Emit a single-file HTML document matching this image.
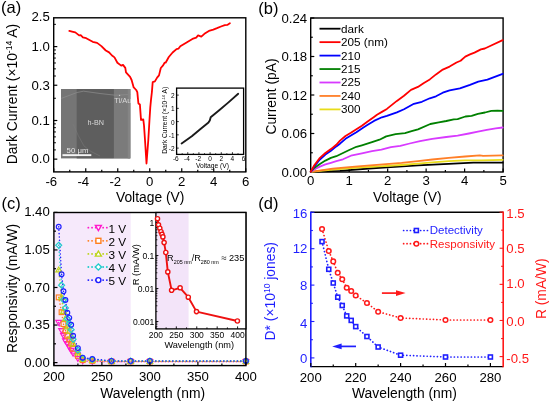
<!DOCTYPE html>
<html><head><meta charset="utf-8"><style>
html,body{margin:0;padding:0;background:#fff;width:550px;height:403px;overflow:hidden}
svg{display:block;will-change:transform}
text{font-family:"Liberation Sans", sans-serif}
</style></head><body>
<svg width="550" height="403" viewBox="0 0 550 403">
<text x="1" y="13.4" font-size="16.5" text-anchor="start" fill="#000">(a)</text>
<rect x="53.7" y="17.8" width="192.1" height="154.1" fill="none" stroke="#000" stroke-width="1.4"/>
<line x1="53.75" y1="171.9" x2="53.75" y2="168.3" stroke="#000" stroke-width="1.2"/>
<text x="51.35" y="185.8" font-size="13.2" text-anchor="middle" fill="#000">-6</text>
<line x1="69.75" y1="171.9" x2="69.75" y2="169.8" stroke="#000" stroke-width="1.2"/>
<line x1="85.75" y1="171.9" x2="85.75" y2="168.3" stroke="#000" stroke-width="1.2"/>
<text x="83.35" y="185.8" font-size="13.2" text-anchor="middle" fill="#000">-4</text>
<line x1="101.75" y1="171.9" x2="101.75" y2="169.8" stroke="#000" stroke-width="1.2"/>
<line x1="117.75" y1="171.9" x2="117.75" y2="168.3" stroke="#000" stroke-width="1.2"/>
<text x="115.35" y="185.8" font-size="13.2" text-anchor="middle" fill="#000">-2</text>
<line x1="133.75" y1="171.9" x2="133.75" y2="169.8" stroke="#000" stroke-width="1.2"/>
<line x1="149.75" y1="171.9" x2="149.75" y2="168.3" stroke="#000" stroke-width="1.2"/>
<text x="149.75" y="185.8" font-size="13.2" text-anchor="middle" fill="#000">0</text>
<line x1="165.75" y1="171.9" x2="165.75" y2="169.8" stroke="#000" stroke-width="1.2"/>
<line x1="181.75" y1="171.9" x2="181.75" y2="168.3" stroke="#000" stroke-width="1.2"/>
<text x="181.75" y="185.8" font-size="13.2" text-anchor="middle" fill="#000">2</text>
<line x1="197.75" y1="171.9" x2="197.75" y2="169.8" stroke="#000" stroke-width="1.2"/>
<line x1="213.75" y1="171.9" x2="213.75" y2="168.3" stroke="#000" stroke-width="1.2"/>
<text x="213.75" y="185.8" font-size="13.2" text-anchor="middle" fill="#000">4</text>
<line x1="229.75" y1="171.9" x2="229.75" y2="169.8" stroke="#000" stroke-width="1.2"/>
<line x1="245.75" y1="171.9" x2="245.75" y2="168.3" stroke="#000" stroke-width="1.2"/>
<text x="245.75" y="185.8" font-size="13.2" text-anchor="middle" fill="#000">6</text>
<text x="150.2" y="201.8" font-size="13.85" text-anchor="middle" fill="#000">Voltage (V)</text>
<text x="49.8" y="21.49" font-size="13.2" text-anchor="end" fill="#000">2.5</text>
<line x1="53.7" y1="46.6" x2="57.3" y2="46.6" stroke="#000" stroke-width="1.2"/>
<text x="49.8" y="50.9" font-size="13.2" text-anchor="end" fill="#000">1.0</text>
<line x1="53.7" y1="85.24" x2="57.3" y2="85.24" stroke="#000" stroke-width="1.2"/>
<text x="49.8" y="89.54" font-size="13.2" text-anchor="end" fill="#000">0.3</text>
<line x1="53.7" y1="120.5" x2="57.3" y2="120.5" stroke="#000" stroke-width="1.2"/>
<text x="49.8" y="124.8" font-size="13.2" text-anchor="end" fill="#000">0.1</text>
<line x1="53.7" y1="159.14" x2="57.3" y2="159.14" stroke="#000" stroke-width="1.2"/>
<text x="49.8" y="163.44" font-size="13.2" text-anchor="end" fill="#000">0.0</text>
<line x1="53.7" y1="24.35" x2="55.9" y2="24.35" stroke="#000" stroke-width="1"/>
<line x1="53.7" y1="49.98" x2="55.9" y2="49.98" stroke="#000" stroke-width="1"/>
<line x1="53.7" y1="53.76" x2="55.9" y2="53.76" stroke="#000" stroke-width="1"/>
<line x1="53.7" y1="58.05" x2="55.9" y2="58.05" stroke="#000" stroke-width="1"/>
<line x1="53.7" y1="62.99" x2="55.9" y2="62.99" stroke="#000" stroke-width="1"/>
<line x1="53.7" y1="68.85" x2="55.9" y2="68.85" stroke="#000" stroke-width="1"/>
<line x1="53.7" y1="76.01" x2="55.9" y2="76.01" stroke="#000" stroke-width="1"/>
<line x1="53.7" y1="98.25" x2="55.9" y2="98.25" stroke="#000" stroke-width="1"/>
<line x1="53.7" y1="123.88" x2="55.9" y2="123.88" stroke="#000" stroke-width="1"/>
<line x1="53.7" y1="127.66" x2="55.9" y2="127.66" stroke="#000" stroke-width="1"/>
<line x1="53.7" y1="131.95" x2="55.9" y2="131.95" stroke="#000" stroke-width="1"/>
<line x1="53.7" y1="136.89" x2="55.9" y2="136.89" stroke="#000" stroke-width="1"/>
<line x1="53.7" y1="142.75" x2="55.9" y2="142.75" stroke="#000" stroke-width="1"/>
<line x1="53.7" y1="149.91" x2="55.9" y2="149.91" stroke="#000" stroke-width="1"/>
<text x="17.1" y="94.1" font-size="13.85" text-anchor="middle" transform="rotate(-90 17.1 94.1)">Dark Current (×10<tspan dy="-5" font-size="8.5">-14</tspan><tspan dy="5"> A)</tspan></text>
<polyline points="69.3,30.9 72,31.6 75.3,32.4 79.1,35.4 80.7,35.2 82.9,37.4 86.2,38.2 92.7,41.8 97.1,42.9 101.4,46.1 105.8,50.5 109.1,52.4 112,55.5 114.5,57.4 117.4,62.7 121.2,65.6 123,64.9 125.3,67.9 126,72.3 130.1,76.8 131.6,80 133.7,87.4 136.2,90 137.3,92.2 138.4,103.4 139.9,104.5 141,119.9 143.3,119.5 144,125.4 145,140 146.5,163.5 148.3,140 149.6,118 150.3,107.1 151,99.8 151.9,92 152.7,82.1 154.9,81.4 157.1,77.6 159,75.4 160.8,68 163.1,65.4 164.6,62.7 165.6,62.7 168.8,57 172.6,52.5 176.5,49.1 178.4,48.7 180.3,46.2 186.6,42.4 192.4,38.9 196.2,37.6 198.1,35.4 201.3,36.6 204.4,33.8 208.9,30.9 213.3,29.6 217,28.2 221,26.5 224.8,25.2 227.3,24.9 229.9,23.3" fill="none" stroke="#ff0000" stroke-width="1.8" stroke-linejoin="round" stroke-linecap="round"/>
<rect x="61" y="89" width="69.3" height="69.4" fill="#757575"/>
<rect x="76.7" y="89" width="37.2" height="69.4" fill="#5e5e5e"/>
<rect x="113.9" y="89" width="16.4" height="69.4" fill="#7b7b7b"/>
<polyline points="61.3,98.4 77,92.5 83.6,91.2 100,93.5 115,95.2 130.3,94.5" fill="none" stroke="#8e8e8e" stroke-width="0.7"/><rect x="127.8" y="89" width="2.5" height="69.4" fill="#858585"/><circle cx="119.6" cy="95.4" r="0.6" fill="#cfcfcf"/>
<path d="M73,124 Q78,136 84,146 Q90,152 100,156" fill="none" stroke="#7c7c7c" stroke-width="0.5"/>
<text x="95.7" y="125" font-size="7.2" text-anchor="middle" fill="#d8d8d8">h-BN</text>
<text x="114.3" y="103.2" font-size="7.5" text-anchor="start" fill="#d8d8d8">Ti/Au</text>
<text x="66.6" y="152.5" font-size="7.8" text-anchor="start" fill="#e4e4e4">50 μm</text>
<rect x="62.5" y="154.2" width="28.8" height="1.9" fill="#f4f4f4"/>
<rect x="176.6" y="88.1" width="67" height="66.3" fill="#fff" stroke="#000" stroke-width="1.3"/>
<line x1="176.6" y1="154.4" x2="176.6" y2="152.2" stroke="#000" stroke-width="0.8"/>
<text x="175.8" y="161" font-size="6.5" text-anchor="middle" fill="#000">-6</text>
<line x1="182.18" y1="154.4" x2="182.18" y2="153.2" stroke="#000" stroke-width="0.8"/>
<line x1="187.77" y1="154.4" x2="187.77" y2="152.2" stroke="#000" stroke-width="0.8"/>
<text x="186.97" y="161" font-size="6.5" text-anchor="middle" fill="#000">-4</text>
<line x1="193.35" y1="154.4" x2="193.35" y2="153.2" stroke="#000" stroke-width="0.8"/>
<line x1="198.93" y1="154.4" x2="198.93" y2="152.2" stroke="#000" stroke-width="0.8"/>
<text x="198.13" y="161" font-size="6.5" text-anchor="middle" fill="#000">-2</text>
<line x1="204.52" y1="154.4" x2="204.52" y2="153.2" stroke="#000" stroke-width="0.8"/>
<line x1="210.1" y1="154.4" x2="210.1" y2="152.2" stroke="#000" stroke-width="0.8"/>
<text x="210.1" y="161" font-size="6.5" text-anchor="middle" fill="#000">0</text>
<line x1="215.68" y1="154.4" x2="215.68" y2="153.2" stroke="#000" stroke-width="0.8"/>
<line x1="221.27" y1="154.4" x2="221.27" y2="152.2" stroke="#000" stroke-width="0.8"/>
<text x="221.27" y="161" font-size="6.5" text-anchor="middle" fill="#000">2</text>
<line x1="226.85" y1="154.4" x2="226.85" y2="153.2" stroke="#000" stroke-width="0.8"/>
<line x1="232.43" y1="154.4" x2="232.43" y2="152.2" stroke="#000" stroke-width="0.8"/>
<text x="232.43" y="161" font-size="6.5" text-anchor="middle" fill="#000">4</text>
<line x1="238.02" y1="154.4" x2="238.02" y2="153.2" stroke="#000" stroke-width="0.8"/>
<line x1="243.6" y1="154.4" x2="243.6" y2="152.2" stroke="#000" stroke-width="0.8"/>
<text x="243.6" y="161" font-size="6.5" text-anchor="middle" fill="#000">6</text>
<line x1="176.6" y1="148.1" x2="178.8" y2="148.1" stroke="#000" stroke-width="0.8"/>
<text x="174.6" y="151.1" font-size="6.5" text-anchor="end" fill="#000">-2</text>
<line x1="176.6" y1="134.85" x2="178.8" y2="134.85" stroke="#000" stroke-width="0.8"/>
<text x="174.6" y="137.85" font-size="6.5" text-anchor="end" fill="#000">-1</text>
<line x1="176.6" y1="121.6" x2="178.8" y2="121.6" stroke="#000" stroke-width="0.8"/>
<text x="174.6" y="124.6" font-size="6.5" text-anchor="end" fill="#000">0</text>
<line x1="176.6" y1="108.35" x2="178.8" y2="108.35" stroke="#000" stroke-width="0.8"/>
<text x="174.6" y="111.35" font-size="6.5" text-anchor="end" fill="#000">1</text>
<line x1="176.6" y1="95.1" x2="178.8" y2="95.1" stroke="#000" stroke-width="0.8"/>
<text x="174.6" y="98.1" font-size="6.5" text-anchor="end" fill="#000">2</text>
<text x="212.5" y="167.6" font-size="6.7" text-anchor="middle" fill="#000">Voltage (V)</text>
<text x="167.2" y="120.3" font-size="6.6" text-anchor="middle" transform="rotate(-90 167.2 120.3)">Dark Current (×10<tspan dy="-2.5" font-size="4">-14</tspan><tspan dy="2.5"> A)</tspan></text>
<polyline points="181.6,143.5 191.8,136.2 200.5,128.9 208.5,122.4 209.8,120.5 210.7,117.3 219.5,110 228.2,102.6 238.2,93.8" fill="none" stroke="#1a1a1a" stroke-width="1.9" stroke-linejoin="round" stroke-linecap="round"/>
<text x="258.3" y="13.5" font-size="16.5" text-anchor="start" fill="#000">(b)</text>
<rect x="310.7" y="18" width="192.4" height="154" fill="none" stroke="#000" stroke-width="1.4"/>
<line x1="310.7" y1="172" x2="310.7" y2="168.4" stroke="#000" stroke-width="1.2"/>
<text x="310.7" y="185.2" font-size="13.2" text-anchor="middle" fill="#000">0</text>
<line x1="329.94" y1="172" x2="329.94" y2="169.9" stroke="#000" stroke-width="1.2"/>
<line x1="349.18" y1="172" x2="349.18" y2="168.4" stroke="#000" stroke-width="1.2"/>
<text x="349.18" y="185.2" font-size="13.2" text-anchor="middle" fill="#000">1</text>
<line x1="368.42" y1="172" x2="368.42" y2="169.9" stroke="#000" stroke-width="1.2"/>
<line x1="387.66" y1="172" x2="387.66" y2="168.4" stroke="#000" stroke-width="1.2"/>
<text x="387.66" y="185.2" font-size="13.2" text-anchor="middle" fill="#000">2</text>
<line x1="406.9" y1="172" x2="406.9" y2="169.9" stroke="#000" stroke-width="1.2"/>
<line x1="426.14" y1="172" x2="426.14" y2="168.4" stroke="#000" stroke-width="1.2"/>
<text x="426.14" y="185.2" font-size="13.2" text-anchor="middle" fill="#000">3</text>
<line x1="445.38" y1="172" x2="445.38" y2="169.9" stroke="#000" stroke-width="1.2"/>
<line x1="464.62" y1="172" x2="464.62" y2="168.4" stroke="#000" stroke-width="1.2"/>
<text x="464.62" y="185.2" font-size="13.2" text-anchor="middle" fill="#000">4</text>
<line x1="483.86" y1="172" x2="483.86" y2="169.9" stroke="#000" stroke-width="1.2"/>
<line x1="503.1" y1="172" x2="503.1" y2="168.4" stroke="#000" stroke-width="1.2"/>
<text x="503.1" y="185.2" font-size="13.2" text-anchor="middle" fill="#000">5</text>
<line x1="310.7" y1="172" x2="314.3" y2="172" stroke="#000" stroke-width="1.2"/>
<text x="307.1" y="176.6" font-size="13.2" text-anchor="end" fill="#000">0.00</text>
<line x1="310.7" y1="152.75" x2="312.8" y2="152.75" stroke="#000" stroke-width="1.2"/>
<line x1="310.7" y1="133.5" x2="314.3" y2="133.5" stroke="#000" stroke-width="1.2"/>
<text x="307.1" y="138.1" font-size="13.2" text-anchor="end" fill="#000">0.06</text>
<line x1="310.7" y1="114.25" x2="312.8" y2="114.25" stroke="#000" stroke-width="1.2"/>
<line x1="310.7" y1="95" x2="314.3" y2="95" stroke="#000" stroke-width="1.2"/>
<text x="307.1" y="99.6" font-size="13.2" text-anchor="end" fill="#000">0.12</text>
<line x1="310.7" y1="75.75" x2="312.8" y2="75.75" stroke="#000" stroke-width="1.2"/>
<line x1="310.7" y1="56.5" x2="314.3" y2="56.5" stroke="#000" stroke-width="1.2"/>
<text x="307.1" y="61.1" font-size="13.2" text-anchor="end" fill="#000">0.18</text>
<line x1="310.7" y1="37.25" x2="312.8" y2="37.25" stroke="#000" stroke-width="1.2"/>
<line x1="310.7" y1="18" x2="314.3" y2="18" stroke="#000" stroke-width="1.2"/>
<text x="307.1" y="22.6" font-size="13.2" text-anchor="end" fill="#000">0.24</text>
<text x="407.3" y="201.8" font-size="13.85" text-anchor="middle" fill="#000">Voltage (V)</text>
<text x="275.7" y="96.5" font-size="13.85" text-anchor="middle" fill="#000" transform="rotate(-90 275.7 96.5)">Current (pA)</text>
<polyline points="310.7,171.8 340,170.8 368.9,168.5 390.7,167.2 418,165.4 448.7,163.9 473.3,162.7 502.7,162.7" fill="none" stroke="#000000" stroke-width="1.8" stroke-linejoin="round" stroke-linecap="round"/>
<polyline points="310.7,171.8 332.7,169.5 358,167.7 379.8,166.4 401.6,165 418,163.6 432.4,162.4 448.7,161.1 465.1,160.4 481.5,160.3 502.7,159.8" fill="none" stroke="#e8dc1a" stroke-width="1.8" stroke-linejoin="round" stroke-linecap="round"/>
<polyline points="310.7,171.8 332.7,168.6 346.4,167.3 358,166.4 379.8,164.7 401.6,162.9 418,161.1 432.4,159.5 448.7,157.8 465.1,156.5 479.8,155.4 483.1,155.9 502.7,155.4" fill="none" stroke="#ff7f27" stroke-width="1.8" stroke-linejoin="round" stroke-linecap="round"/>
<polyline points="310.7,171.8 315.6,168.8 319.9,166.6 325.4,164.4 330.9,162.8 336.3,161.1 343,159.3 350.9,155.7 361.9,153.3 372,151.2 381.4,149.6 390.9,147.2 400.3,145.8 409.7,143.5 420,141.2 432.2,138.9 446.3,137 457.6,135.6 468.9,133.5 477.9,131.7 486.8,129.9 495.7,128.4 502.7,127.5" fill="none" stroke="#d83aff" stroke-width="1.8" stroke-linejoin="round" stroke-linecap="round"/>
<polyline points="310.7,171.8 314.5,167.7 319.9,163.9 325.4,160.6 330.9,157.9 336.3,156.2 343,153 348.7,150.3 356.4,146.8 361.9,145.3 367.3,143.7 372,142.2 379.5,139.7 386.2,136.4 395.6,134.2 405,133.1 411.6,131.2 418,129.3 430.3,124 438.8,122.4 446.3,121 453.8,119.3 457.6,119.1 465.4,116.5 471.6,115.9 477.9,113.8 485,112.5 491.3,110.9 497.5,110.7 502.7,110.9" fill="none" stroke="#008000" stroke-width="1.8" stroke-linejoin="round" stroke-linecap="round"/>
<polyline points="310.7,171.8 314.5,166.1 319.9,159.5 325.4,154.6 330.9,150.8 336.3,146.4 340,143.7 345.5,138.8 350.9,135.5 356.4,132.2 361.9,128.4 367.3,125.1 374,120.9 381.9,117.3 386.9,115.9 391.9,114.1 396.9,112.4 404,109.2 413.9,103.8 421.9,101.8 429.8,98.3 436,96.3 442.8,92.7 449.6,90.4 459.9,88.4 470,84.8 478.3,81.6 487.4,79.7 502.7,73.9" fill="none" stroke="#0000ff" stroke-width="1.8" stroke-linejoin="round" stroke-linecap="round"/>
<polyline points="310.7,171.8 314.5,165 319.9,157.9 325.4,153 330.9,149.1 336.3,144.8 340,140.6 345.5,136 350.9,132.8 356.4,129.3 361.9,125.7 367.3,121.8 374,116.9 377,114.7 381.9,111.9 386.9,108.9 391.9,104.9 396.9,100.9 404,95.8 411,89.9 417.9,86.9 423.9,82.9 429.8,79.4 436,74.4 442.8,69.6 449.6,66.6 456.5,62.5 460.6,60.7 465.3,56.6 470,54.4 474.5,52.6 480.9,49.4 484.8,48.5 491.2,45.5 502.7,40.1" fill="none" stroke="#ff0000" stroke-width="1.8" stroke-linejoin="round" stroke-linecap="round"/>
<line x1="319.5" y1="28.7" x2="340.5" y2="28.7" stroke="#000000" stroke-width="1.8"/>
<text x="341" y="32.6" font-size="11.7" text-anchor="start" fill="#000">dark</text>
<line x1="319.5" y1="42.15" x2="340.5" y2="42.15" stroke="#ff0000" stroke-width="1.8"/>
<text x="341" y="46.05" font-size="11.7" text-anchor="start" fill="#000">205 (nm)</text>
<line x1="319.5" y1="55.6" x2="340.5" y2="55.6" stroke="#0000ff" stroke-width="1.8"/>
<text x="341" y="59.5" font-size="11.7" text-anchor="start" fill="#000">210</text>
<line x1="319.5" y1="69.05" x2="340.5" y2="69.05" stroke="#008000" stroke-width="1.8"/>
<text x="341" y="72.95" font-size="11.7" text-anchor="start" fill="#000">215</text>
<line x1="319.5" y1="82.5" x2="340.5" y2="82.5" stroke="#d83aff" stroke-width="1.8"/>
<text x="341" y="86.4" font-size="11.7" text-anchor="start" fill="#000">225</text>
<line x1="319.5" y1="95.95" x2="340.5" y2="95.95" stroke="#ff7f27" stroke-width="1.8"/>
<text x="341" y="99.85" font-size="11.7" text-anchor="start" fill="#000">240</text>
<line x1="319.5" y1="109.4" x2="340.5" y2="109.4" stroke="#e8dc1a" stroke-width="1.8"/>
<text x="341" y="113.3" font-size="11.7" text-anchor="start" fill="#000">300</text>
<text x="1.6" y="209" font-size="16.5" text-anchor="start" fill="#000">(c)</text>
<rect x="53.9" y="212.5" width="76.8" height="153.1" fill="#f6e9fb"/>
<polyline points="58.7,322.58 61.58,330.62 63.5,335.78 65.42,341.03 67.34,343.82 69.26,347.26 71.18,350.48 73.1,353.37 77.9,358.63 82.7,360.99 92.3,361.53 111.5,361.74 130.7,361.74 149.9,361.74 245.9,361.74" fill="none" stroke="#ff1acc" stroke-width="1.5" stroke-linejoin="round" stroke-linecap="round" stroke-dasharray="0.1 3.3"/>
<polyline points="58.7,297.38 61.58,312.17 63.5,324.06 65.42,330.25 67.34,335.67 69.26,339.52 71.18,343.73 73.1,348.74 77.9,355.86 82.7,360.12 92.3,360.85 111.5,361.52 130.7,361.52 149.9,361.52 245.9,361.52" fill="none" stroke="#ff7f1e" stroke-width="1.5" stroke-linejoin="round" stroke-linecap="round" stroke-dasharray="0.1 3.3"/>
<polyline points="58.7,269.78 61.58,297.15 63.5,311.24 65.42,318.45 67.34,326.74 69.26,331.06 71.18,336.34 73.1,343.68 77.9,352.84 82.7,359.16 92.3,360.11 111.5,361.27 130.7,361.27 149.9,361.27 245.9,361.27" fill="none" stroke="#bcd41a" stroke-width="1.5" stroke-linejoin="round" stroke-linecap="round" stroke-dasharray="0.1 3.3"/>
<polyline points="58.7,245.25 61.58,285.16 63.5,299.84 65.42,307.95 67.34,318.8 69.26,323.53 71.18,329.78 73.1,339.17 77.9,350.14 82.7,358.31 92.3,359.45 111.5,361.05 130.7,361.05 149.9,361.05 245.9,361.05" fill="none" stroke="#22cccc" stroke-width="1.5" stroke-linejoin="round" stroke-linecap="round" stroke-dasharray="0.1 3.3"/>
<polyline points="58.7,226.76 61.58,274.29 63.5,291.25 65.42,300.04 67.34,312.81 69.26,317.86 71.18,324.83 73.1,335.78 77.9,348.11 82.7,357.66 92.3,358.95 111.5,360.88 130.7,360.88 149.9,360.88 245.9,360.88" fill="none" stroke="#1f1fff" stroke-width="1.5" stroke-linejoin="round" stroke-linecap="round" stroke-dasharray="0.1 3.3"/>
<polygon points="58.7,325.34 55.82,320.42 61.58,320.42" fill="none" stroke="#ff1acc" stroke-width="1.15"/>
<polygon points="61.58,333.38 58.7,328.46 64.46,328.46" fill="none" stroke="#ff1acc" stroke-width="1.15"/>
<polygon points="63.5,338.54 60.62,333.62 66.38,333.62" fill="none" stroke="#ff1acc" stroke-width="1.15"/>
<polygon points="65.42,343.79 62.54,338.87 68.3,338.87" fill="none" stroke="#ff1acc" stroke-width="1.15"/>
<polygon points="67.34,346.58 64.46,341.66 70.22,341.66" fill="none" stroke="#ff1acc" stroke-width="1.15"/>
<polygon points="69.26,350.02 66.38,345.1 72.14,345.1" fill="none" stroke="#ff1acc" stroke-width="1.15"/>
<polygon points="71.18,353.24 68.3,348.32 74.06,348.32" fill="none" stroke="#ff1acc" stroke-width="1.15"/>
<polygon points="73.1,356.13 70.22,351.21 75.98,351.21" fill="none" stroke="#ff1acc" stroke-width="1.15"/>
<polygon points="77.9,361.39 75.02,356.47 80.78,356.47" fill="none" stroke="#ff1acc" stroke-width="1.15"/>
<polygon points="82.7,363.75 79.82,358.83 85.58,358.83" fill="none" stroke="#ff1acc" stroke-width="1.15"/>
<polygon points="92.3,364.29 89.42,359.37 95.18,359.37" fill="none" stroke="#ff1acc" stroke-width="1.15"/>
<polygon points="111.5,364.5 108.62,359.58 114.38,359.58" fill="none" stroke="#ff1acc" stroke-width="1.15"/>
<polygon points="130.7,364.5 127.82,359.58 133.58,359.58" fill="none" stroke="#ff1acc" stroke-width="1.15"/>
<polygon points="149.9,364.5 147.02,359.58 152.78,359.58" fill="none" stroke="#ff1acc" stroke-width="1.15"/>
<polygon points="245.9,364.5 243.02,359.58 248.78,359.58" fill="none" stroke="#ff1acc" stroke-width="1.15"/>
<rect x="56.3" y="294.98" width="4.8" height="4.8" fill="none" stroke="#ff7f1e" stroke-width="1.15"/>
<rect x="59.18" y="309.77" width="4.8" height="4.8" fill="none" stroke="#ff7f1e" stroke-width="1.15"/>
<rect x="61.1" y="321.66" width="4.8" height="4.8" fill="none" stroke="#ff7f1e" stroke-width="1.15"/>
<rect x="63.02" y="327.85" width="4.8" height="4.8" fill="none" stroke="#ff7f1e" stroke-width="1.15"/>
<rect x="64.94" y="333.27" width="4.8" height="4.8" fill="none" stroke="#ff7f1e" stroke-width="1.15"/>
<rect x="66.86" y="337.12" width="4.8" height="4.8" fill="none" stroke="#ff7f1e" stroke-width="1.15"/>
<rect x="68.78" y="341.33" width="4.8" height="4.8" fill="none" stroke="#ff7f1e" stroke-width="1.15"/>
<rect x="70.7" y="346.34" width="4.8" height="4.8" fill="none" stroke="#ff7f1e" stroke-width="1.15"/>
<rect x="75.5" y="353.46" width="4.8" height="4.8" fill="none" stroke="#ff7f1e" stroke-width="1.15"/>
<rect x="80.3" y="357.72" width="4.8" height="4.8" fill="none" stroke="#ff7f1e" stroke-width="1.15"/>
<rect x="89.9" y="358.45" width="4.8" height="4.8" fill="none" stroke="#ff7f1e" stroke-width="1.15"/>
<rect x="109.1" y="359.12" width="4.8" height="4.8" fill="none" stroke="#ff7f1e" stroke-width="1.15"/>
<rect x="128.3" y="359.12" width="4.8" height="4.8" fill="none" stroke="#ff7f1e" stroke-width="1.15"/>
<rect x="147.5" y="359.12" width="4.8" height="4.8" fill="none" stroke="#ff7f1e" stroke-width="1.15"/>
<rect x="243.5" y="359.12" width="4.8" height="4.8" fill="none" stroke="#ff7f1e" stroke-width="1.15"/>
<polygon points="58.7,267.02 55.82,271.94 61.58,271.94" fill="none" stroke="#bcd41a" stroke-width="1.15"/>
<polygon points="61.58,294.39 58.7,299.31 64.46,299.31" fill="none" stroke="#bcd41a" stroke-width="1.15"/>
<polygon points="63.5,308.48 60.62,313.4 66.38,313.4" fill="none" stroke="#bcd41a" stroke-width="1.15"/>
<polygon points="65.42,315.69 62.54,320.61 68.3,320.61" fill="none" stroke="#bcd41a" stroke-width="1.15"/>
<polygon points="67.34,323.98 64.46,328.9 70.22,328.9" fill="none" stroke="#bcd41a" stroke-width="1.15"/>
<polygon points="69.26,328.3 66.38,333.22 72.14,333.22" fill="none" stroke="#bcd41a" stroke-width="1.15"/>
<polygon points="71.18,333.58 68.3,338.5 74.06,338.5" fill="none" stroke="#bcd41a" stroke-width="1.15"/>
<polygon points="73.1,340.92 70.22,345.84 75.98,345.84" fill="none" stroke="#bcd41a" stroke-width="1.15"/>
<polygon points="77.9,350.08 75.02,355 80.78,355" fill="none" stroke="#bcd41a" stroke-width="1.15"/>
<polygon points="82.7,356.4 79.82,361.32 85.58,361.32" fill="none" stroke="#bcd41a" stroke-width="1.15"/>
<polygon points="92.3,357.35 89.42,362.27 95.18,362.27" fill="none" stroke="#bcd41a" stroke-width="1.15"/>
<polygon points="111.5,358.51 108.62,363.43 114.38,363.43" fill="none" stroke="#bcd41a" stroke-width="1.15"/>
<polygon points="130.7,358.51 127.82,363.43 133.58,363.43" fill="none" stroke="#bcd41a" stroke-width="1.15"/>
<polygon points="149.9,358.51 147.02,363.43 152.78,363.43" fill="none" stroke="#bcd41a" stroke-width="1.15"/>
<polygon points="245.9,358.51 243.02,363.43 248.78,363.43" fill="none" stroke="#bcd41a" stroke-width="1.15"/>
<polygon points="58.7,242.25 61.7,245.25 58.7,248.25 55.7,245.25" fill="none" stroke="#22cccc" stroke-width="1.15"/>
<polygon points="61.58,282.16 64.58,285.16 61.58,288.16 58.58,285.16" fill="none" stroke="#22cccc" stroke-width="1.15"/>
<polygon points="63.5,296.84 66.5,299.84 63.5,302.84 60.5,299.84" fill="none" stroke="#22cccc" stroke-width="1.15"/>
<polygon points="65.42,304.95 68.42,307.95 65.42,310.95 62.42,307.95" fill="none" stroke="#22cccc" stroke-width="1.15"/>
<polygon points="67.34,315.8 70.34,318.8 67.34,321.8 64.34,318.8" fill="none" stroke="#22cccc" stroke-width="1.15"/>
<polygon points="69.26,320.53 72.26,323.53 69.26,326.53 66.26,323.53" fill="none" stroke="#22cccc" stroke-width="1.15"/>
<polygon points="71.18,326.78 74.18,329.78 71.18,332.78 68.18,329.78" fill="none" stroke="#22cccc" stroke-width="1.15"/>
<polygon points="73.1,336.17 76.1,339.17 73.1,342.17 70.1,339.17" fill="none" stroke="#22cccc" stroke-width="1.15"/>
<polygon points="77.9,347.14 80.9,350.14 77.9,353.14 74.9,350.14" fill="none" stroke="#22cccc" stroke-width="1.15"/>
<polygon points="82.7,355.31 85.7,358.31 82.7,361.31 79.7,358.31" fill="none" stroke="#22cccc" stroke-width="1.15"/>
<polygon points="92.3,356.45 95.3,359.45 92.3,362.45 89.3,359.45" fill="none" stroke="#22cccc" stroke-width="1.15"/>
<polygon points="111.5,358.05 114.5,361.05 111.5,364.05 108.5,361.05" fill="none" stroke="#22cccc" stroke-width="1.15"/>
<polygon points="130.7,358.05 133.7,361.05 130.7,364.05 127.7,361.05" fill="none" stroke="#22cccc" stroke-width="1.15"/>
<polygon points="149.9,358.05 152.9,361.05 149.9,364.05 146.9,361.05" fill="none" stroke="#22cccc" stroke-width="1.15"/>
<polygon points="245.9,358.05 248.9,361.05 245.9,364.05 242.9,361.05" fill="none" stroke="#22cccc" stroke-width="1.15"/>
<circle cx="58.7" cy="226.76" r="2.4" fill="none" stroke="#1f1fff" stroke-width="1.15"/>
<circle cx="61.58" cy="274.29" r="2.4" fill="none" stroke="#1f1fff" stroke-width="1.15"/>
<circle cx="63.5" cy="291.25" r="2.4" fill="none" stroke="#1f1fff" stroke-width="1.15"/>
<circle cx="65.42" cy="300.04" r="2.4" fill="none" stroke="#1f1fff" stroke-width="1.15"/>
<circle cx="67.34" cy="312.81" r="2.4" fill="none" stroke="#1f1fff" stroke-width="1.15"/>
<circle cx="69.26" cy="317.86" r="2.4" fill="none" stroke="#1f1fff" stroke-width="1.15"/>
<circle cx="71.18" cy="324.83" r="2.4" fill="none" stroke="#1f1fff" stroke-width="1.15"/>
<circle cx="73.1" cy="335.78" r="2.4" fill="none" stroke="#1f1fff" stroke-width="1.15"/>
<circle cx="77.9" cy="348.11" r="2.4" fill="none" stroke="#1f1fff" stroke-width="1.15"/>
<circle cx="82.7" cy="357.66" r="2.4" fill="none" stroke="#1f1fff" stroke-width="1.15"/>
<circle cx="92.3" cy="358.95" r="2.4" fill="none" stroke="#1f1fff" stroke-width="1.15"/>
<circle cx="111.5" cy="360.88" r="2.4" fill="none" stroke="#1f1fff" stroke-width="1.15"/>
<circle cx="130.7" cy="360.88" r="2.4" fill="none" stroke="#1f1fff" stroke-width="1.15"/>
<circle cx="149.9" cy="360.88" r="2.4" fill="none" stroke="#1f1fff" stroke-width="1.15"/>
<circle cx="245.9" cy="360.88" r="2.4" fill="none" stroke="#1f1fff" stroke-width="1.15"/>
<rect x="53.9" y="212.5" width="192" height="153.1" fill="none" stroke="#000" stroke-width="1.4"/>
<line x1="53.9" y1="365.6" x2="53.9" y2="362" stroke="#000" stroke-width="1.2"/>
<text x="53.9" y="381.3" font-size="13.2" text-anchor="middle" fill="#000">200</text>
<line x1="77.9" y1="365.6" x2="77.9" y2="363.5" stroke="#000" stroke-width="1.2"/>
<line x1="101.9" y1="365.6" x2="101.9" y2="362" stroke="#000" stroke-width="1.2"/>
<text x="101.9" y="381.3" font-size="13.2" text-anchor="middle" fill="#000">250</text>
<line x1="125.9" y1="365.6" x2="125.9" y2="363.5" stroke="#000" stroke-width="1.2"/>
<line x1="149.9" y1="365.6" x2="149.9" y2="362" stroke="#000" stroke-width="1.2"/>
<text x="149.9" y="381.3" font-size="13.2" text-anchor="middle" fill="#000">300</text>
<line x1="173.9" y1="365.6" x2="173.9" y2="363.5" stroke="#000" stroke-width="1.2"/>
<line x1="197.9" y1="365.6" x2="197.9" y2="362" stroke="#000" stroke-width="1.2"/>
<text x="197.9" y="381.3" font-size="13.2" text-anchor="middle" fill="#000">350</text>
<line x1="221.9" y1="365.6" x2="221.9" y2="363.5" stroke="#000" stroke-width="1.2"/>
<line x1="245.9" y1="365.6" x2="245.9" y2="362" stroke="#000" stroke-width="1.2"/>
<text x="245.9" y="381.3" font-size="13.2" text-anchor="middle" fill="#000">400</text>
<line x1="53.9" y1="362.6" x2="57.5" y2="362.6" stroke="#000" stroke-width="1.2"/>
<text x="49.8" y="367" font-size="13.2" text-anchor="end" fill="#000">0.00</text>
<line x1="53.9" y1="343.82" x2="56" y2="343.82" stroke="#000" stroke-width="1.2"/>
<line x1="53.9" y1="325.05" x2="57.5" y2="325.05" stroke="#000" stroke-width="1.2"/>
<text x="49.8" y="329.44" font-size="13.2" text-anchor="end" fill="#000">0.35</text>
<line x1="53.9" y1="306.27" x2="56" y2="306.27" stroke="#000" stroke-width="1.2"/>
<line x1="53.9" y1="287.49" x2="57.5" y2="287.49" stroke="#000" stroke-width="1.2"/>
<text x="49.8" y="291.89" font-size="13.2" text-anchor="end" fill="#000">0.70</text>
<line x1="53.9" y1="268.71" x2="56" y2="268.71" stroke="#000" stroke-width="1.2"/>
<line x1="53.9" y1="249.94" x2="57.5" y2="249.94" stroke="#000" stroke-width="1.2"/>
<text x="49.8" y="254.34" font-size="13.2" text-anchor="end" fill="#000">1.05</text>
<line x1="53.9" y1="231.16" x2="56" y2="231.16" stroke="#000" stroke-width="1.2"/>
<line x1="53.9" y1="212.38" x2="57.5" y2="212.38" stroke="#000" stroke-width="1.2"/>
<text x="49.8" y="215.78" font-size="13.2" text-anchor="end" fill="#000">1.40</text>
<text x="152.6" y="397.6" font-size="13.85" text-anchor="middle" fill="#000">Wavelength (nm)</text>
<text x="16.8" y="288.5" font-size="13.85" text-anchor="middle" fill="#000" transform="rotate(-90 16.8 288.5)">Responsivity (mA/W)</text>
<line x1="88.3" y1="227.7" x2="107.6" y2="227.7" stroke="#ff1acc" stroke-width="1.8" stroke-dasharray="0.1 3.6" stroke-linecap="round"/>
<polygon points="98.4,230.57 95.4,225.45 101.4,225.45" fill="#fff" stroke="#ff1acc" stroke-width="1.4"/>
<text x="108.4" y="232.5" font-size="11.8" text-anchor="start" fill="#000">1 V</text>
<line x1="88.3" y1="240.8" x2="107.6" y2="240.8" stroke="#ff7f1e" stroke-width="1.8" stroke-dasharray="0.1 3.6" stroke-linecap="round"/>
<rect x="95.9" y="238.3" width="5" height="5" fill="#fff" stroke="#ff7f1e" stroke-width="1.4"/>
<text x="108.4" y="245.6" font-size="11.8" text-anchor="start" fill="#000">2 V</text>
<line x1="88.3" y1="253.9" x2="107.6" y2="253.9" stroke="#bcd41a" stroke-width="1.8" stroke-dasharray="0.1 3.6" stroke-linecap="round"/>
<polygon points="98.4,251.02 95.4,256.15 101.4,256.15" fill="#fff" stroke="#bcd41a" stroke-width="1.4"/>
<text x="108.4" y="258.7" font-size="11.8" text-anchor="start" fill="#000">3 V</text>
<line x1="88.3" y1="267" x2="107.6" y2="267" stroke="#22cccc" stroke-width="1.8" stroke-dasharray="0.1 3.6" stroke-linecap="round"/>
<polygon points="98.4,263.88 101.53,267 98.4,270.12 95.28,267" fill="#fff" stroke="#22cccc" stroke-width="1.4"/>
<text x="108.4" y="271.8" font-size="11.8" text-anchor="start" fill="#000">4 V</text>
<line x1="88.3" y1="280.1" x2="107.6" y2="280.1" stroke="#1f1fff" stroke-width="1.8" stroke-dasharray="0.1 3.6" stroke-linecap="round"/>
<circle cx="98.4" cy="280.1" r="2.5" fill="#fff" stroke="#1f1fff" stroke-width="1.4"/>
<text x="108.4" y="284.9" font-size="11.8" text-anchor="start" fill="#000">5 V</text>
<rect x="155.9" y="212.5" width="90" height="116.4" fill="#fff"/>
<rect x="155.9" y="212.5" width="32.68" height="116.4" fill="#f3e4f9"/>
<rect x="155.9" y="212.5" width="90" height="116.4" fill="none" stroke="#000" stroke-width="1.3"/>
<line x1="155.9" y1="328.9" x2="155.9" y2="326.4" stroke="#000" stroke-width="0.9"/>
<text x="155.9" y="337.7" font-size="8.5" text-anchor="middle" fill="#000">200</text>
<line x1="166.11" y1="328.9" x2="166.11" y2="327.4" stroke="#000" stroke-width="0.9"/>
<line x1="176.32" y1="328.9" x2="176.32" y2="326.4" stroke="#000" stroke-width="0.9"/>
<text x="176.32" y="337.7" font-size="8.5" text-anchor="middle" fill="#000">250</text>
<line x1="186.54" y1="328.9" x2="186.54" y2="327.4" stroke="#000" stroke-width="0.9"/>
<line x1="196.75" y1="328.9" x2="196.75" y2="326.4" stroke="#000" stroke-width="0.9"/>
<text x="196.75" y="337.7" font-size="8.5" text-anchor="middle" fill="#000">300</text>
<line x1="206.96" y1="328.9" x2="206.96" y2="327.4" stroke="#000" stroke-width="0.9"/>
<line x1="217.18" y1="328.9" x2="217.18" y2="326.4" stroke="#000" stroke-width="0.9"/>
<text x="217.18" y="337.7" font-size="8.5" text-anchor="middle" fill="#000">350</text>
<line x1="227.39" y1="328.9" x2="227.39" y2="327.4" stroke="#000" stroke-width="0.9"/>
<line x1="237.6" y1="328.9" x2="237.6" y2="326.4" stroke="#000" stroke-width="0.9"/>
<text x="237.6" y="337.7" font-size="8.5" text-anchor="middle" fill="#000">400</text>
<line x1="155.9" y1="222.5" x2="158.4" y2="222.5" stroke="#000" stroke-width="0.9"/>
<text x="154.4" y="225.7" font-size="8.6" text-anchor="end" fill="#000">1</text>
<line x1="155.9" y1="245.57" x2="157.4" y2="245.57" stroke="#000" stroke-width="0.8"/>
<line x1="155.9" y1="239.75" x2="157.4" y2="239.75" stroke="#000" stroke-width="0.8"/>
<line x1="155.9" y1="235.63" x2="157.4" y2="235.63" stroke="#000" stroke-width="0.8"/>
<line x1="155.9" y1="232.43" x2="157.4" y2="232.43" stroke="#000" stroke-width="0.8"/>
<line x1="155.9" y1="229.82" x2="157.4" y2="229.82" stroke="#000" stroke-width="0.8"/>
<line x1="155.9" y1="227.61" x2="157.4" y2="227.61" stroke="#000" stroke-width="0.8"/>
<line x1="155.9" y1="225.7" x2="157.4" y2="225.7" stroke="#000" stroke-width="0.8"/>
<line x1="155.9" y1="224.01" x2="157.4" y2="224.01" stroke="#000" stroke-width="0.8"/>
<line x1="155.9" y1="255.5" x2="158.4" y2="255.5" stroke="#000" stroke-width="0.9"/>
<text x="154.4" y="258.7" font-size="8.6" text-anchor="end" fill="#000">0.1</text>
<line x1="155.9" y1="278.57" x2="157.4" y2="278.57" stroke="#000" stroke-width="0.8"/>
<line x1="155.9" y1="272.75" x2="157.4" y2="272.75" stroke="#000" stroke-width="0.8"/>
<line x1="155.9" y1="268.63" x2="157.4" y2="268.63" stroke="#000" stroke-width="0.8"/>
<line x1="155.9" y1="265.43" x2="157.4" y2="265.43" stroke="#000" stroke-width="0.8"/>
<line x1="155.9" y1="262.82" x2="157.4" y2="262.82" stroke="#000" stroke-width="0.8"/>
<line x1="155.9" y1="260.61" x2="157.4" y2="260.61" stroke="#000" stroke-width="0.8"/>
<line x1="155.9" y1="258.7" x2="157.4" y2="258.7" stroke="#000" stroke-width="0.8"/>
<line x1="155.9" y1="257.01" x2="157.4" y2="257.01" stroke="#000" stroke-width="0.8"/>
<line x1="155.9" y1="288.5" x2="158.4" y2="288.5" stroke="#000" stroke-width="0.9"/>
<text x="154.4" y="291.7" font-size="8.6" text-anchor="end" fill="#000">0.01</text>
<line x1="155.9" y1="311.57" x2="157.4" y2="311.57" stroke="#000" stroke-width="0.8"/>
<line x1="155.9" y1="305.75" x2="157.4" y2="305.75" stroke="#000" stroke-width="0.8"/>
<line x1="155.9" y1="301.63" x2="157.4" y2="301.63" stroke="#000" stroke-width="0.8"/>
<line x1="155.9" y1="298.43" x2="157.4" y2="298.43" stroke="#000" stroke-width="0.8"/>
<line x1="155.9" y1="295.82" x2="157.4" y2="295.82" stroke="#000" stroke-width="0.8"/>
<line x1="155.9" y1="293.61" x2="157.4" y2="293.61" stroke="#000" stroke-width="0.8"/>
<line x1="155.9" y1="291.7" x2="157.4" y2="291.7" stroke="#000" stroke-width="0.8"/>
<line x1="155.9" y1="290.01" x2="157.4" y2="290.01" stroke="#000" stroke-width="0.8"/>
<line x1="155.9" y1="321.5" x2="158.4" y2="321.5" stroke="#000" stroke-width="0.9"/>
<text x="154.4" y="324.7" font-size="8.6" text-anchor="end" fill="#000">0.001</text>
<line x1="155.9" y1="328.82" x2="157.4" y2="328.82" stroke="#000" stroke-width="0.8"/>
<line x1="155.9" y1="326.61" x2="157.4" y2="326.61" stroke="#000" stroke-width="0.8"/>
<line x1="155.9" y1="324.7" x2="157.4" y2="324.7" stroke="#000" stroke-width="0.8"/>
<line x1="155.9" y1="323.01" x2="157.4" y2="323.01" stroke="#000" stroke-width="0.8"/>
<line x1="155.9" y1="212.57" x2="157.4" y2="212.57" stroke="#000" stroke-width="0.8"/>
<text x="199.2" y="347.5" font-size="9.2" text-anchor="middle" fill="#000">Wavelength (nm)</text>
<text x="138.6" y="264.7" font-size="9.4" text-anchor="middle" fill="#000" transform="rotate(-90 138.6 264.7)">R (mA/W)</text>
<polyline points="157.5,218.7 158.5,224.8 159.8,228.2 161,231.7 162,234.3 162.9,236.9 164.1,242.6 165.8,252.5 167.8,271.9 171.6,290.3 180.1,287.8 188.3,297.2 196.5,311.6 237.4,321" fill="none" stroke="#ee1111" stroke-width="1.9" stroke-linejoin="round" stroke-linecap="round"/>
<circle cx="157.5" cy="218.7" r="2.1" fill="#fff" stroke="#ee1111" stroke-width="1.4"/>
<circle cx="158.5" cy="224.8" r="2.1" fill="#fff" stroke="#ee1111" stroke-width="1.4"/>
<circle cx="159.8" cy="228.2" r="2.1" fill="#fff" stroke="#ee1111" stroke-width="1.4"/>
<circle cx="161" cy="231.7" r="2.1" fill="#fff" stroke="#ee1111" stroke-width="1.4"/>
<circle cx="162" cy="234.3" r="2.1" fill="#fff" stroke="#ee1111" stroke-width="1.4"/>
<circle cx="162.9" cy="236.9" r="2.1" fill="#fff" stroke="#ee1111" stroke-width="1.4"/>
<circle cx="164.1" cy="242.6" r="2.1" fill="#fff" stroke="#ee1111" stroke-width="1.4"/>
<circle cx="165.8" cy="252.5" r="2.1" fill="#fff" stroke="#ee1111" stroke-width="1.4"/>
<circle cx="167.8" cy="271.9" r="2.1" fill="#fff" stroke="#ee1111" stroke-width="1.4"/>
<circle cx="171.6" cy="290.3" r="2.1" fill="#fff" stroke="#ee1111" stroke-width="1.4"/>
<circle cx="180.1" cy="287.8" r="2.1" fill="#fff" stroke="#ee1111" stroke-width="1.4"/>
<circle cx="188.3" cy="297.2" r="2.1" fill="#fff" stroke="#ee1111" stroke-width="1.4"/>
<circle cx="196.5" cy="311.6" r="2.1" fill="#fff" stroke="#ee1111" stroke-width="1.4"/>
<circle cx="237.4" cy="321" r="2.1" fill="#fff" stroke="#ee1111" stroke-width="1.4"/>
<text x="167.0" y="261.3" font-size="9.2">R<tspan dy="2.6" font-size="5.4">205 nm</tspan><tspan dy="-2.6">/R</tspan><tspan dy="2.6" font-size="5.4">280 nm</tspan><tspan dy="-2.6"> ≈ 235</tspan></text>
<text x="258.3" y="209" font-size="16.5" text-anchor="start" fill="#000">(d)</text>
<line x1="310.8" y1="212.3" x2="503.2" y2="212.3" stroke="#000" stroke-width="1.4"/>
<line x1="310.8" y1="366.6" x2="503.2" y2="366.6" stroke="#000" stroke-width="1.4"/>
<line x1="310.8" y1="211.6" x2="310.8" y2="367.3" stroke="#1f1fff" stroke-width="1.6"/>
<line x1="503.2" y1="211.6" x2="503.2" y2="367.3" stroke="#ff1a1a" stroke-width="1.6"/>
<line x1="310.8" y1="366.6" x2="310.8" y2="363" stroke="#000" stroke-width="1.2"/>
<text x="310.8" y="381.5" font-size="13.2" text-anchor="middle" fill="#000">200</text>
<line x1="333.25" y1="366.6" x2="333.25" y2="364.5" stroke="#000" stroke-width="1.2"/>
<line x1="355.7" y1="366.6" x2="355.7" y2="363" stroke="#000" stroke-width="1.2"/>
<text x="355.7" y="381.5" font-size="13.2" text-anchor="middle" fill="#000">220</text>
<line x1="378.15" y1="366.6" x2="378.15" y2="364.5" stroke="#000" stroke-width="1.2"/>
<line x1="400.6" y1="366.6" x2="400.6" y2="363" stroke="#000" stroke-width="1.2"/>
<text x="400.6" y="381.5" font-size="13.2" text-anchor="middle" fill="#000">240</text>
<line x1="423.05" y1="366.6" x2="423.05" y2="364.5" stroke="#000" stroke-width="1.2"/>
<line x1="445.5" y1="366.6" x2="445.5" y2="363" stroke="#000" stroke-width="1.2"/>
<text x="445.5" y="381.5" font-size="13.2" text-anchor="middle" fill="#000">260</text>
<line x1="467.95" y1="366.6" x2="467.95" y2="364.5" stroke="#000" stroke-width="1.2"/>
<line x1="490.4" y1="366.6" x2="490.4" y2="363" stroke="#000" stroke-width="1.2"/>
<text x="490.4" y="381.5" font-size="13.2" text-anchor="middle" fill="#000">280</text>
<line x1="310.8" y1="357.9" x2="314.4" y2="357.9" stroke="#1f1fff" stroke-width="1.1"/>
<text x="307.4" y="362.9" font-size="13.2" text-anchor="end" fill="#1f1fff">0</text>
<line x1="310.8" y1="339.7" x2="312.9" y2="339.7" stroke="#1f1fff" stroke-width="1.1"/>
<line x1="310.8" y1="321.5" x2="314.4" y2="321.5" stroke="#1f1fff" stroke-width="1.1"/>
<text x="307.4" y="327.6" font-size="13.2" text-anchor="end" fill="#1f1fff">4</text>
<line x1="310.8" y1="303.3" x2="312.9" y2="303.3" stroke="#1f1fff" stroke-width="1.1"/>
<line x1="310.8" y1="285.1" x2="314.4" y2="285.1" stroke="#1f1fff" stroke-width="1.1"/>
<text x="307.4" y="289.9" font-size="13.2" text-anchor="end" fill="#1f1fff">8</text>
<line x1="310.8" y1="266.9" x2="312.9" y2="266.9" stroke="#1f1fff" stroke-width="1.1"/>
<line x1="310.8" y1="248.7" x2="314.4" y2="248.7" stroke="#1f1fff" stroke-width="1.1"/>
<text x="307.4" y="253" font-size="13.2" text-anchor="end" fill="#1f1fff">12</text>
<line x1="310.8" y1="230.5" x2="312.9" y2="230.5" stroke="#1f1fff" stroke-width="1.1"/>
<line x1="310.8" y1="212.3" x2="314.4" y2="212.3" stroke="#1f1fff" stroke-width="1.1"/>
<text x="307.4" y="217.7" font-size="13.2" text-anchor="end" fill="#1f1fff">16</text>
<line x1="503.2" y1="356.6" x2="499.6" y2="356.6" stroke="#ff1a1a" stroke-width="1.1"/>
<text x="506.3" y="362.8" font-size="13.2" text-anchor="start" fill="#ff1a1a">-0.5</text>
<line x1="503.2" y1="338.54" x2="501.1" y2="338.54" stroke="#ff1a1a" stroke-width="1.1"/>
<line x1="503.2" y1="320.48" x2="499.6" y2="320.48" stroke="#ff1a1a" stroke-width="1.1"/>
<text x="506.3" y="325.78" font-size="13.2" text-anchor="start" fill="#ff1a1a">0.0</text>
<line x1="503.2" y1="302.42" x2="501.1" y2="302.42" stroke="#ff1a1a" stroke-width="1.1"/>
<line x1="503.2" y1="284.36" x2="499.6" y2="284.36" stroke="#ff1a1a" stroke-width="1.1"/>
<text x="506.3" y="288.16" font-size="13.2" text-anchor="start" fill="#ff1a1a">1.0</text>
<line x1="503.2" y1="266.3" x2="501.1" y2="266.3" stroke="#ff1a1a" stroke-width="1.1"/>
<line x1="503.2" y1="248.24" x2="499.6" y2="248.24" stroke="#ff1a1a" stroke-width="1.1"/>
<text x="506.3" y="253.14" font-size="13.2" text-anchor="start" fill="#ff1a1a">0.5</text>
<line x1="503.2" y1="230.18" x2="501.1" y2="230.18" stroke="#ff1a1a" stroke-width="1.1"/>
<line x1="503.2" y1="212.12" x2="499.6" y2="212.12" stroke="#ff1a1a" stroke-width="1.1"/>
<text x="506.3" y="217.52" font-size="13.2" text-anchor="start" fill="#ff1a1a">1.5</text>
<text x="404.5" y="397.6" font-size="13.85" text-anchor="middle" fill="#000">Wavelength (nm)</text>
<text x="275.1" y="291.2" font-size="13.85" text-anchor="middle" fill="#1f1fff" transform="rotate(-90 275.1 291.2)">D<tspan dy="-0.5">*</tspan><tspan dy="0.5"> (×10</tspan><tspan dy="-5" font-size="8.5">10</tspan><tspan dy="5"> jones)</tspan></text>
<text x="545.9" y="288.7" font-size="13.85" text-anchor="middle" fill="#ff1a1a" transform="rotate(-90 545.9 288.7)">R (mA/W)</text>
<polyline points="322.03,241.6 328.76,269.3 333.25,283 337.74,297.2 342.23,305.5 346.72,315.9 351.21,320.4 355.7,326.6 366.93,336.5 378.15,347 400.6,355.2 445.5,357 490.4,357" fill="none" stroke="#1f1fff" stroke-width="1.7" stroke-linejoin="round" stroke-linecap="round" stroke-dasharray="0.1 3.3"/>
<polyline points="322.03,229 328.76,251 333.25,261.4 337.74,272.7 342.23,279.3 346.72,287.7 351.21,291 355.7,295.5 366.93,303 378.15,311.7 400.6,318 445.5,320 490.4,320" fill="none" stroke="#ff1a1a" stroke-width="1.7" stroke-linejoin="round" stroke-linecap="round" stroke-dasharray="0.1 3.3"/>
<rect x="320.03" y="239.6" width="4" height="4" fill="#fff" stroke="#1f1fff" stroke-width="1.6"/>
<rect x="326.76" y="267.3" width="4" height="4" fill="#fff" stroke="#1f1fff" stroke-width="1.6"/>
<rect x="331.25" y="281" width="4" height="4" fill="#fff" stroke="#1f1fff" stroke-width="1.6"/>
<rect x="335.74" y="295.2" width="4" height="4" fill="#fff" stroke="#1f1fff" stroke-width="1.6"/>
<rect x="340.23" y="303.5" width="4" height="4" fill="#fff" stroke="#1f1fff" stroke-width="1.6"/>
<rect x="344.72" y="313.9" width="4" height="4" fill="#fff" stroke="#1f1fff" stroke-width="1.6"/>
<rect x="349.21" y="318.4" width="4" height="4" fill="#fff" stroke="#1f1fff" stroke-width="1.6"/>
<rect x="353.7" y="324.6" width="4" height="4" fill="#fff" stroke="#1f1fff" stroke-width="1.6"/>
<rect x="364.93" y="334.5" width="4" height="4" fill="#fff" stroke="#1f1fff" stroke-width="1.6"/>
<rect x="376.15" y="345" width="4" height="4" fill="#fff" stroke="#1f1fff" stroke-width="1.6"/>
<rect x="398.6" y="353.2" width="4" height="4" fill="#fff" stroke="#1f1fff" stroke-width="1.6"/>
<rect x="443.5" y="355" width="4" height="4" fill="#fff" stroke="#1f1fff" stroke-width="1.6"/>
<rect x="488.4" y="355" width="4" height="4" fill="#fff" stroke="#1f1fff" stroke-width="1.6"/>
<circle cx="322.03" cy="229" r="2.3" fill="#fff" stroke="#ff1a1a" stroke-width="1.5"/>
<circle cx="328.76" cy="251" r="2.3" fill="#fff" stroke="#ff1a1a" stroke-width="1.5"/>
<circle cx="333.25" cy="261.4" r="2.3" fill="#fff" stroke="#ff1a1a" stroke-width="1.5"/>
<circle cx="337.74" cy="272.7" r="2.3" fill="#fff" stroke="#ff1a1a" stroke-width="1.5"/>
<circle cx="342.23" cy="279.3" r="2.3" fill="#fff" stroke="#ff1a1a" stroke-width="1.5"/>
<circle cx="346.72" cy="287.7" r="2.3" fill="#fff" stroke="#ff1a1a" stroke-width="1.5"/>
<circle cx="351.21" cy="291" r="2.3" fill="#fff" stroke="#ff1a1a" stroke-width="1.5"/>
<circle cx="355.7" cy="295.5" r="2.3" fill="#fff" stroke="#ff1a1a" stroke-width="1.5"/>
<circle cx="366.93" cy="303" r="2.3" fill="#fff" stroke="#ff1a1a" stroke-width="1.5"/>
<circle cx="378.15" cy="311.7" r="2.3" fill="#fff" stroke="#ff1a1a" stroke-width="1.5"/>
<circle cx="400.6" cy="318" r="2.3" fill="#fff" stroke="#ff1a1a" stroke-width="1.5"/>
<circle cx="445.5" cy="320" r="2.3" fill="#fff" stroke="#ff1a1a" stroke-width="1.5"/>
<circle cx="490.4" cy="320" r="2.3" fill="#fff" stroke="#ff1a1a" stroke-width="1.5"/>
<line x1="403.6" y1="230.5" x2="428.2" y2="230.5" stroke="#1f1fff" stroke-width="1.7" stroke-dasharray="0.1 3.3" stroke-linecap="round"/>
<rect x="414.4" y="228.5" width="4" height="4" fill="#fff" stroke="#1f1fff" stroke-width="1.6"/>
<text x="429.8" y="234.4" font-size="11.5" text-anchor="start" fill="#1f1fff">Detectivity</text>
<line x1="403.6" y1="243.7" x2="428.2" y2="243.7" stroke="#ff1a1a" stroke-width="1.7" stroke-dasharray="0.1 3.3" stroke-linecap="round"/>
<circle cx="416.4" cy="243.7" r="2.3" fill="#fff" stroke="#ff1a1a" stroke-width="1.5"/>
<text x="429.8" y="247.6" font-size="11.5" text-anchor="start" fill="#ff1a1a">Responsivity</text>
<line x1="381.9" y1="293.1" x2="398" y2="293.1" stroke="#ff1a1a" stroke-width="1.7"/><polygon points="405.6,293.1 396,290.2 396,296" fill="#ff1a1a"/>
<line x1="339" y1="346.4" x2="356" y2="346.4" stroke="#1f1fff" stroke-width="1.7"/><polygon points="332.2,346.4 341.6,343.5 341.6,349.3" fill="#1f1fff"/>
</svg></body></html>
